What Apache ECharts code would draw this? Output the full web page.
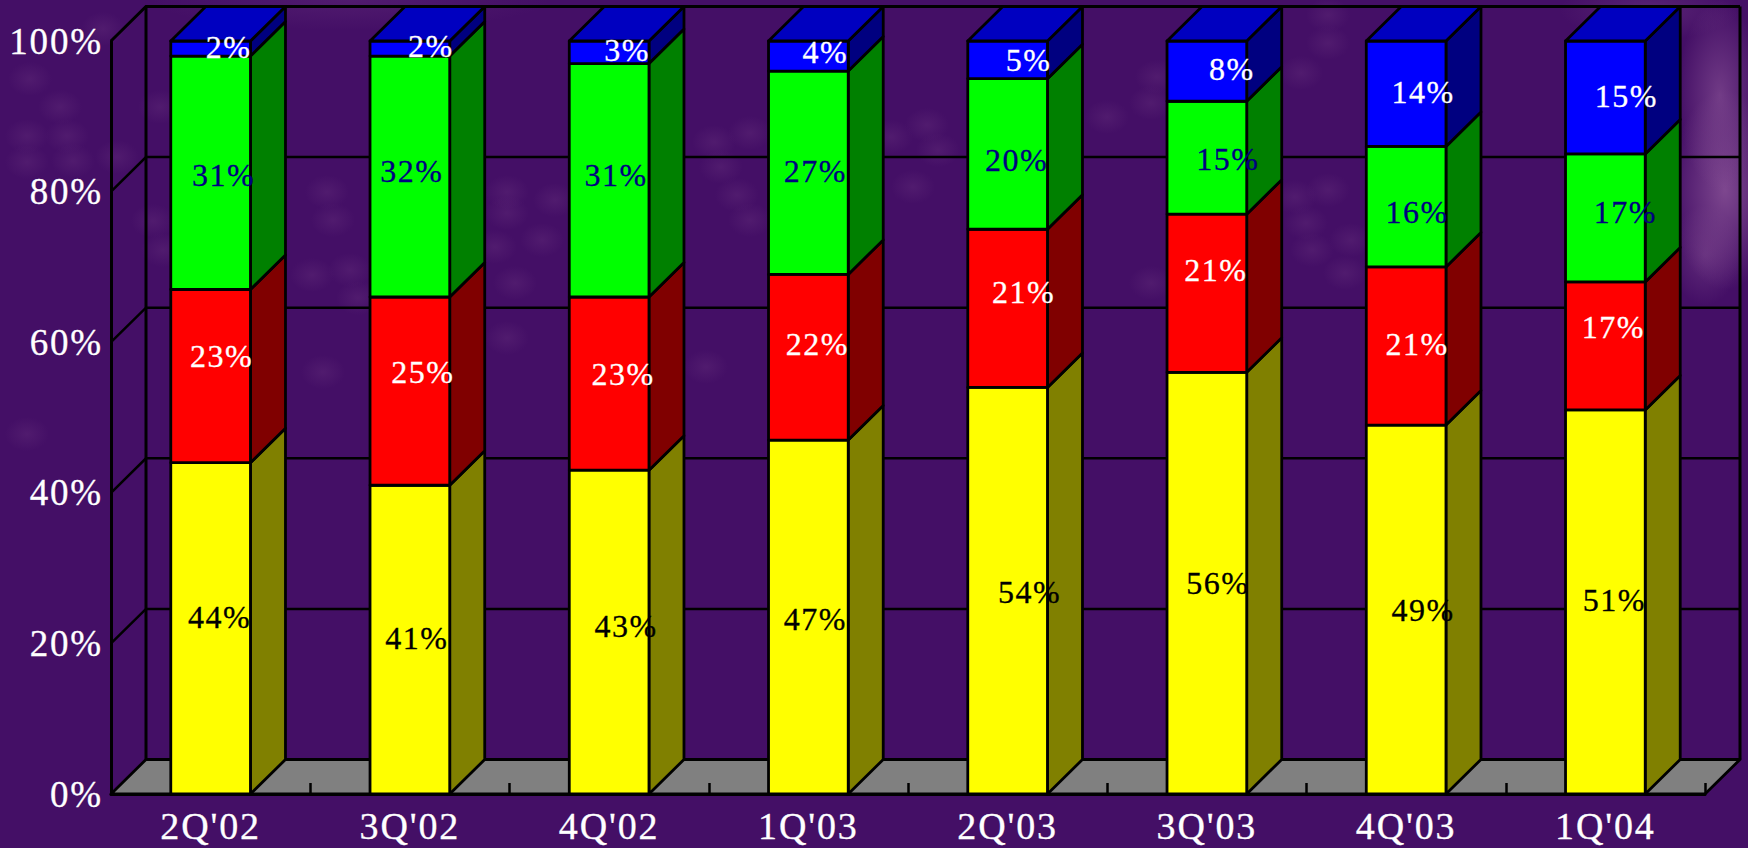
<!DOCTYPE html>
<html>
<head>
<meta charset="utf-8">
<title>Quarterly share</title>
<script src="https://cdn.jsdelivr.net/npm/echarts@6/dist/echarts.min.js"></script>
<style>
html, body { margin: 0; padding: 0; width: 100%; height: 100%; }
body { background-color: #440f66; background-repeat: no-repeat; }
#chart { width: 1748px; height: 848px; }
#chart text { letter-spacing: .05em; }
</style>
</head>
<body>
<div id="chart"></div>
<script>
const categories = ["2Q'02", "3Q'02", "4Q'02", "1Q'03", "2Q'03", "3Q'03", "4Q'03", "1Q'04"];
const yTicks = [0, 20, 40, 60, 80, 100];

const yellowShare = [44, 41, 43, 47, 54, 56, 49, 51];
const redShare = [23, 25, 23, 22, 21, 21, 21, 17];
const greenShare = [31, 32, 31, 27, 20, 15, 16, 17];
const blueShare = [2, 2, 3, 4, 5, 8, 14, 15];

// the labels in the original were dragged by hand, these are pixel nudges from the segment centre
const yellowNudge = [[9, -11], [7, -2], [17, -6], [7, 2], [22, 1], [11, 0], [17, 0], [9, -2]];
const redNudge = [[11, -20], [13, -19], [14, -10], [9, -13], [16, -16], [9, -23], [11, -2], [8, -19]];
const greenNudge = [[13, 2], [2, -6], [7, -5], [7, -2], [9, 6], [21, 1], [11, 5], [20, -6]];
const blueNudge = [[18, -2], [21, -3], [18, -2], [17, -4], [21, 0], [25, -2], [17, -2], [21, -1]];

// backdrop texture: faint blotches picked off the slide background
const bgBlotches = [
  [327, 192], [333, 220], [350, 270], [312, 275], [358, 298], [507, 192], [507, 213], [555, 200],
  [542, 240], [495, 247], [515, 283], [750, 133], [714, 142], [721, 167], [737, 195], [750, 220],
  [323, 372], [706, 367], [507, 338], [1157, 77], [1107, 117], [1151, 103], [938, 150], [927, 125],
  [891, 137], [913, 187], [1328, 15], [1295, 197], [1306, 223], [1312, 250], [1351, 240], [1328, 190],
  [1328, 43], [1301, 73], [1345, 273], [1151, 283], [30, 79], [60, 107], [27, 136], [67, 136],
  [27, 162], [73, 161], [117, 157], [160, 107], [153, 221], [163, 250], [27, 434], [103, 29]
];
const bgClouds = [
  [1720, 95, 42, 95, 0.55],
  [1725, 190, 55, 100, 0.7],
  [1705, 255, 35, 50, 0.35],
  [1650, 10, 90, 30, 0.25],
  [350, 0, 200, 30, 0.15]
];
document.body.style.backgroundImage = bgClouds.map(c =>
  `radial-gradient(ellipse ${c[2]}px ${c[3]}px at ${c[0]}px ${c[1]}px, rgba(150,95,160,${c[4]}), rgba(150,95,160,0))`
).concat(bgBlotches.map(b =>
  `radial-gradient(ellipse 22px 17px at ${b[0]}px ${b[1]}px, rgba(125,70,140,.22), rgba(125,70,140,0))`
)).join(',');

const DEPTH_X = 35;
const DEPTH_Y = 34.5;
const BAR_RATIO = 0.4;
const LINE = '#000';

const stackDefs = [
  { name: 'Yellow', values: yellowShare, nudge: yellowNudge, front: '#ffff00', side: '#808000', text: '#000' },
  { name: 'Red', values: redShare, nudge: redNudge, front: '#ff0000', side: '#800000', text: '#fff' },
  { name: 'Green', values: greenShare, nudge: greenNudge, front: '#00ff00', side: '#008000', text: '#000080' },
  { name: 'Blue', values: blueShare, nudge: blueNudge, front: '#0000ff', side: '#000080', text: '#fff', top: '#0000c0' }
];

function poly(points, fill) {
  return {
    type: 'polygon',
    shape: { points: points },
    style: { fill: fill, stroke: LINE, lineWidth: 2.8, lineJoin: 'round' }
  };
}

// back wall lines + floor, one item per y tick
function renderWall(params, api) {
  const cs = params.coordSys;
  const v = api.value(0);
  const y = api.coord([0, v])[1];
  const left = cs.x;
  const right = cs.x + cs.width;
  const children = [];
  if (v === 0) {
    children.push(poly([[left, y], [left + DEPTH_X, y - DEPTH_Y], [right + DEPTH_X, y - DEPTH_Y], [right, y]], '#808080'));
    [left, right].forEach(x => {
      children.push({
        type: 'polyline',
        shape: { points: [[x + DEPTH_X, cs.y - DEPTH_Y], [x + DEPTH_X, y - DEPTH_Y]] },
        style: { stroke: LINE, lineWidth: 3, fill: 'none' }
      });
    });
  } else {
    children.push({
      type: 'polyline',
      shape: { points: [[left, y], [left + DEPTH_X, y - DEPTH_Y], [right + DEPTH_X, y - DEPTH_Y]] },
      style: { stroke: LINE, lineWidth: v === 100 ? 3 : 2.5, fill: 'none' }
    });
  }
  return { type: 'group', children: children };
}

function renderSegment(def, params, api) {
  const i = api.value(0);
  const base = api.value(1);
  const top = api.value(2);
  const center = api.coord([i, base]);
  const topPt = api.coord([i, top]);
  const w = api.size([1, 0])[0] * BAR_RATIO;
  const x0 = center[0] - w / 2;
  const x1 = center[0] + w / 2;
  const y0 = center[1];
  const y1 = topPt[1];
  const nudge = def.nudge[i];
  const children = [
    poly([[x1, y0], [x1 + DEPTH_X, y0 - DEPTH_Y], [x1 + DEPTH_X, y1 - DEPTH_Y], [x1, y1]], def.side),
    poly([[x0, y0], [x1, y0], [x1, y1], [x0, y1]], def.front)
  ];
  if (def.top) {
    children.push(poly([[x0, y1], [x1, y1], [x1 + DEPTH_X, y1 - DEPTH_Y], [x0 + DEPTH_X, y1 - DEPTH_Y]], def.top));
  }
  children.push({
    type: 'text',
    z2: 50,
    style: {
      x: center[0] + nudge[0],
      y: (y0 + y1) / 2 + nudge[1],
      text: api.value(3) + '%',
      fill: def.text,
      stroke: def.text,
      lineWidth: 0.3,
      font: '32px "Liberation Serif"',
      align: 'center',
      verticalAlign: 'middle'
    }
  });
  return { type: 'group', children: children };
}

function segmentData(index) {
  return categories.map((c, i) => {
    let base = 0;
    for (let k = 0; k < index; k++) base += stackDefs[k].values[i];
    const val = stackDefs[index].values[i];
    return [i, base, base + val, val];
  });
}

const chart = echarts.init(document.getElementById('chart'), null, { renderer: 'svg' });
chart.setOption({
  backgroundColor: 'transparent',
  animation: false,
  grid: { left: 111, right: 43, top: 41, bottom: 54 },
  xAxis: {
    type: 'category',
    data: categories,
    z: 2,
    axisLine: { lineStyle: { color: LINE, width: 3 } },
    axisTick: { show: true, inside: true, length: 11, lineStyle: { color: LINE, width: 2.5 } },
    axisLabel: {
      color: '#fff',
      fontFamily: 'Liberation Serif',
      fontSize: 38,
      margin: 13,
      interval: 0,
      textBorderColor: '#fff',
      textBorderWidth: 0.3
    }
  },
  yAxis: {
    type: 'value',
    min: 0,
    max: 100,
    interval: 20,
    axisLine: { show: true, lineStyle: { color: LINE, width: 3 } },
    axisTick: { show: false },
    splitLine: { show: false },
    axisLabel: {
      color: '#fff',
      fontFamily: 'Liberation Serif',
      fontSize: 37,
      margin: 8,
      padding: [0, 0, 8, 0],
      textBorderColor: '#fff',
      textBorderWidth: 0.3,
      formatter: '{value}%'
    }
  },
  series: [
    {
      type: 'custom',
      name: 'Wall',
      z: 1,
      silent: true,
      renderItem: renderWall,
      data: yTicks.map(t => [t])
    }
  ].concat(stackDefs.map((def, idx) => ({
    type: 'custom',
    name: def.name,
    z: 3 + idx,
    renderItem: (params, api) => renderSegment(def, params, api),
    data: segmentData(idx)
  })))
});
</script>
</body>
</html>
